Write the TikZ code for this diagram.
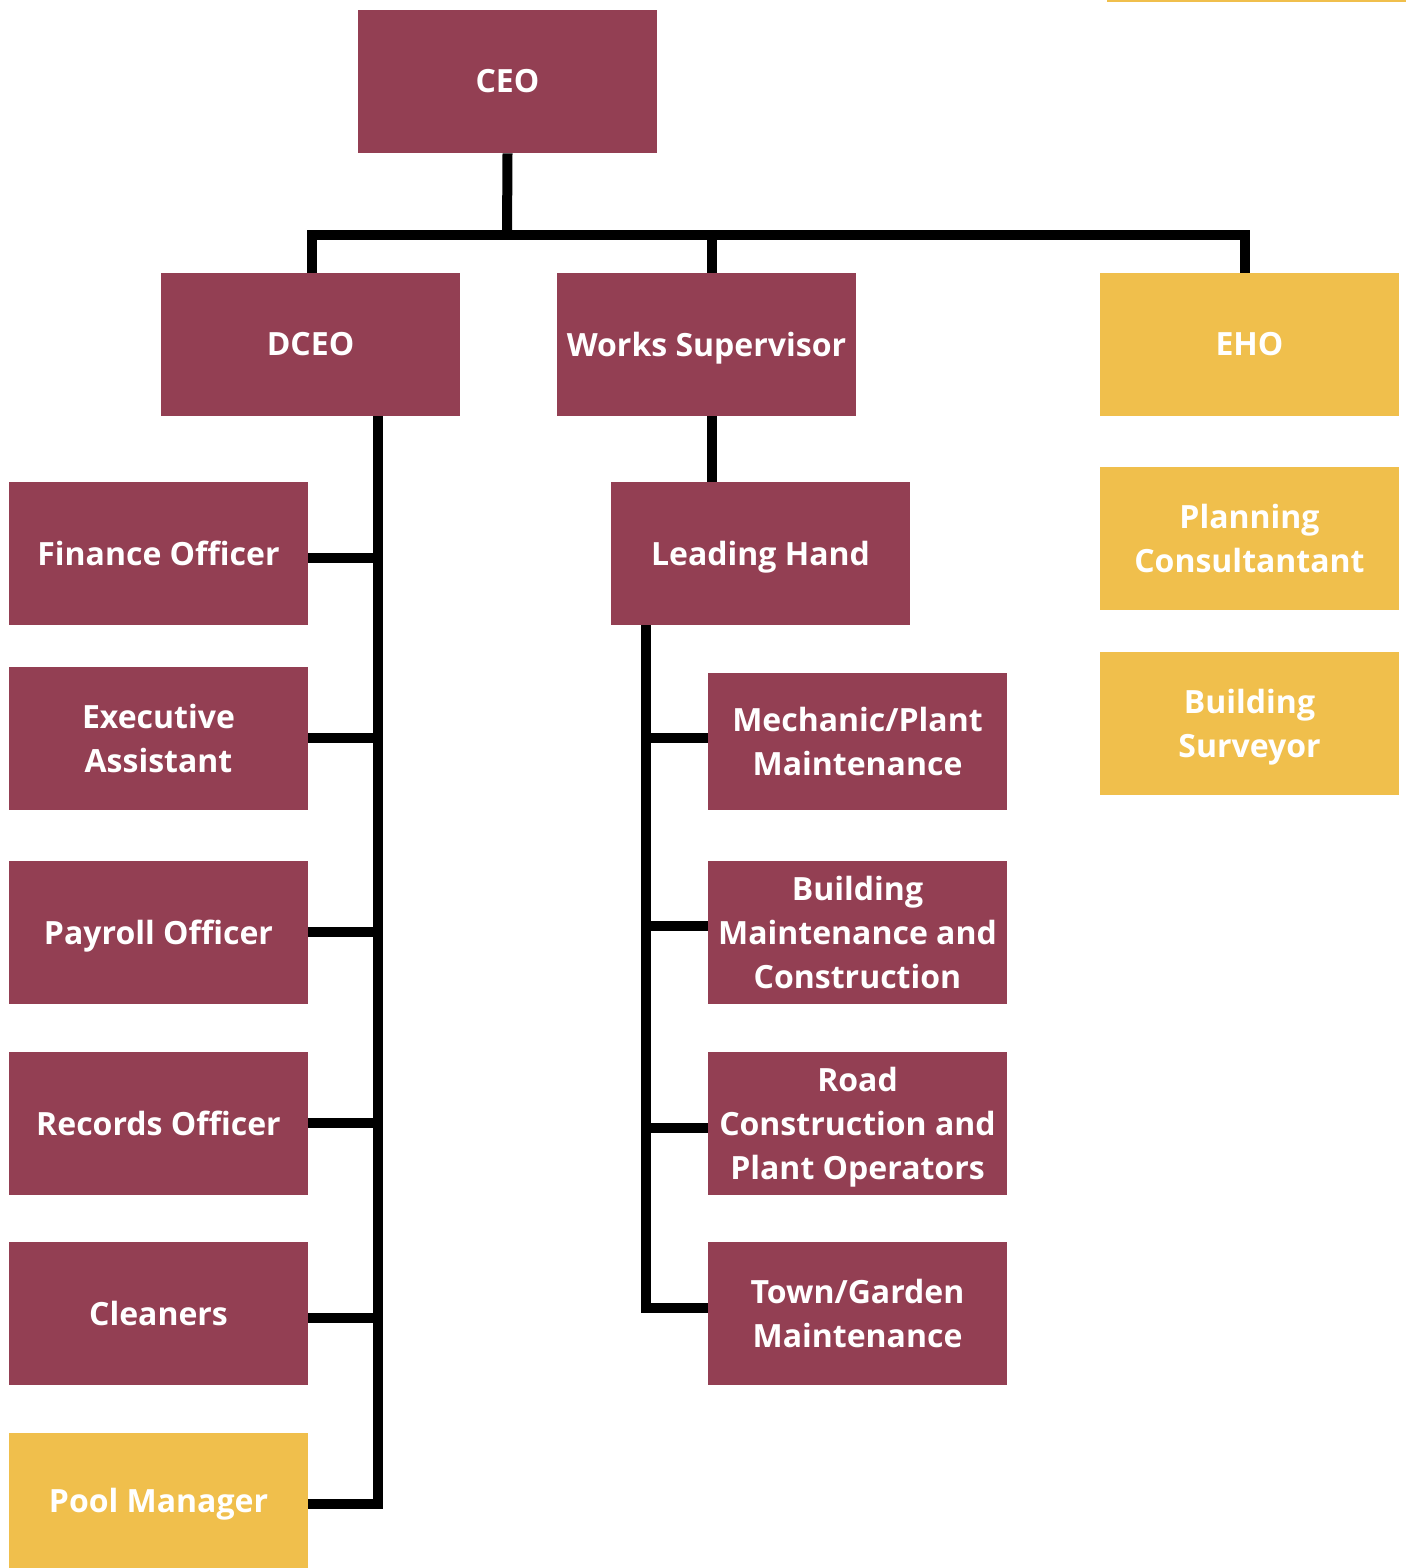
\documentclass[tikz,border=0pt]{standalone}
\usepackage{fontspec}
\setmainfont{Open Sans}
\definecolor{maroon}{HTML}{933F53}
\definecolor{gold}{HTML}{F0BF4C}
\newcommand{\nodesc}[1]{\raisebox{0pt}[\height][0pt]{#1}}
\begin{document}
\begin{tikzpicture}[x=0.5pt,y=-0.5pt,
  box/.style={fill=maroon,draw=none,minimum width=149.5pt,minimum height=71.5pt,inner sep=0pt,
    text=white,align=center,font=\bfseries\fontsize{16}{22}\selectfont},
  ybox/.style={box,fill=gold},
  conn/.style={line width=5pt,black,line cap=butt,line join=miter}]
\useasboundingbox (0,0) rectangle (1408,1568);
\fill[gold] (1107,0) rectangle (1406,2);
% top
\node[box] (ceo) at (507.5,81.5) {CEO};
\node[box] (dceo) at (310.5,344.5) {DCEO};
\node[box] (ws) at (706.5,344.5) {\nodesc{Works Supervisor}};
\node[ybox] (eho) at (1249.5,344.5) {EHO};
\node[ybox] (pc) at (1249.5,538.5) {Planning\\Consultantant};
\node[ybox] (bs) at (1249.5,723.5) {Building\\\nodesc{Surveyor}};
% left column
\node[box] (fin) at (158.5,553.5) {Finance Officer};
\node[box] (ea) at (158.5,738.5) {Executive\\Assistant};
\node[box] (pay) at (158.5,932.5) {\nodesc{Payroll Officer}};
\node[box] (rec) at (158.5,1123.5) {Records Officer};
\node[box] (cl) at (158.5,1313.5) {Cleaners};
\node[ybox,minimum height=67.5pt] (pool) at (158.5,1500.5) {\nodesc{Pool Manager}};
% works
\node[box] (lh) at (760.5,553.5) {\nodesc{Leading Hand}};
\node[box,minimum height=68.5pt] (mech) at (857.5,741.5) {Mechanic/Plant\\Maintenance};
\node[box] (bmc) at (857.5,932.5) {Building\\Maintenance and\\Construction};
\node[box] (rcp) at (857.5,1123.5) {Road\\Construction and\\\nodesc{Plant Operators}};
\node[box] (tg) at (857.5,1313.5) {Town/Garden\\Maintenance};
% connectors
\coordinate (bus) at (507,235);
\coordinate (wsx) at (712,0);
\coordinate (dv) at (378,416);
\coordinate (lv) at (646,625);
\draw[conn] (ceo.south) -- (bus);
\draw[conn] (312,273) |- (bus) -| (1245,273);
\draw[conn] (wsx |- bus) -- (wsx |- ws.north);
\draw[conn] (wsx |- ws.south) -- (wsx |- lh.north);
\draw[conn] (dv) |- (pool.east |- 0,1504);
\foreach \n/\y in {fin/558,ea/738,pay/932,rec/1123,cl/1318}
  \draw[conn] (\n.east |- 0,\y) -- (dv |- 0,\y);
\draw[conn] (lv) |- (tg.west |- 0,1308);
\foreach \n/\y in {mech/738,bmc/926,rcp/1128}
  \draw[conn] (lv |- 0,\y) -- (\n.west |- 0,\y);
\end{tikzpicture}
\end{document}
